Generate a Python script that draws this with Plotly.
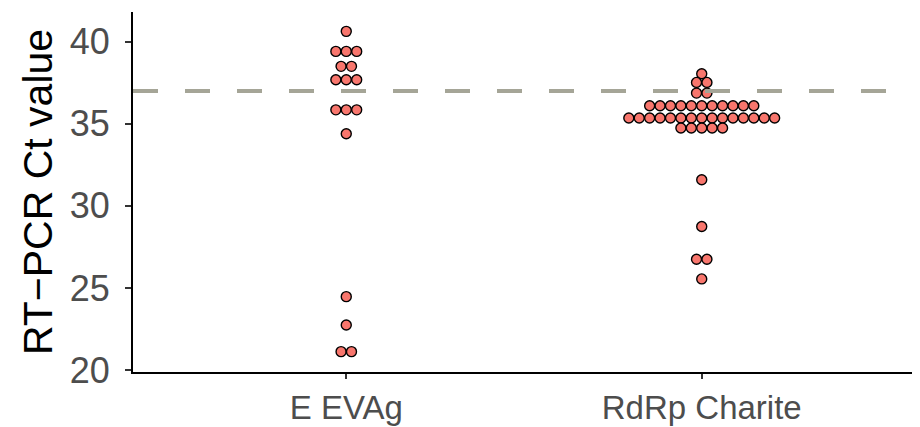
import plotly.graph_objects as go
from collections import Counter

# ---- data ----
categories = ["E EVAg", "RdRp Charite"]

e_evag_ct = [40.63,
             39.41, 39.41, 39.41,
             38.50, 38.50,
             37.68, 37.68, 37.68,
             35.85, 35.85, 35.85,
             34.39,
             24.47,
             22.74,
             21.12, 21.12]

rdrp_charite_ct = [38.05,
                   37.52, 37.52,
                   36.87, 36.87,
                   36.10, 36.10, 36.10, 36.10, 36.10, 36.10, 36.10, 36.10, 36.10, 36.10, 36.10,
                   35.35, 35.35, 35.35, 35.35, 35.35, 35.35, 35.35, 35.35, 35.35, 35.35, 35.35,
                   35.35, 35.35, 35.35, 35.35,
                   34.74, 34.74, 34.74, 34.74, 34.74,
                   31.59,
                   28.74,
                   26.75, 26.75,
                   25.55]

cutoff_ct = 37.0
y_ticks = [20, 25, 30, 35, 40]

# ---- dotplot layout (centre-stacked bins) ----
STACK_STEP = 0.0293  # horizontal dot spacing in x-data units


def dotplot_positions(values, centre):
    xs, ys = [], []
    counts = Counter(values)
    for v, n in counts.items():
        for i in range(n):
            xs.append(centre + (i - (n - 1) / 2) * STACK_STEP)
            ys.append(v)
    return xs, ys


fig = go.Figure()
for idx, vals in enumerate([e_evag_ct, rdrp_charite_ct]):
    xs, ys = dotplot_positions(vals, idx + 1)
    fig.add_trace(go.Scatter(
        x=xs, y=ys, mode="markers",
        marker=dict(size=10, color="#F8766D", line=dict(color="black", width=1.4)),
        showlegend=False, hoverinfo="y",
    ))

fig.add_shape(type="line", xref="paper", x0=0, x1=1, yref="y", y0=cutoff_ct, y1=cutoff_ct,
              line=dict(color="#A5A597", width=4, dash="25px,27px"), layer="above")

# page body adds an 8px margin, so the figure is 912x419 to fill the 920x427 window
fig.update_layout(
    width=912, height=419,
    margin=dict(l=125, r=5, t=4, b=55, autoexpand=False),
    paper_bgcolor="white", plot_bgcolor="white",
    font=dict(family="Liberation Sans, Arial, sans-serif", color="#4D4D4D"),
    xaxis=dict(
        range=[0.4, 2.6], tickvals=[1, 2], ticktext=categories,
        showline=True, linecolor="black", linewidth=2, mirror=False,
        ticks="outside", ticklen=5, tickcolor="#333333", tickwidth=1.5,
        tickfont=dict(size=33, color="#4D4D4D"), automargin=False,
        ticklabelstandoff=0,
        showgrid=False, zeroline=False,
    ),
    yaxis=dict(
        range=[19.88, 41.81], tickvals=y_ticks,
        showline=True, linecolor="black", linewidth=2,
        ticks="outside", ticklen=6, tickcolor="#333333", tickwidth=1.5,
        tickfont=dict(size=36, color="#4D4D4D"), automargin=False,
        ticklabelstandoff=8,
        title=dict(text="RT\u2212PCR Ct value", font=dict(size=41, color="black"), standoff=4),
        showgrid=False, zeroline=False,
    ),
)

fig.write_html("out.html")
